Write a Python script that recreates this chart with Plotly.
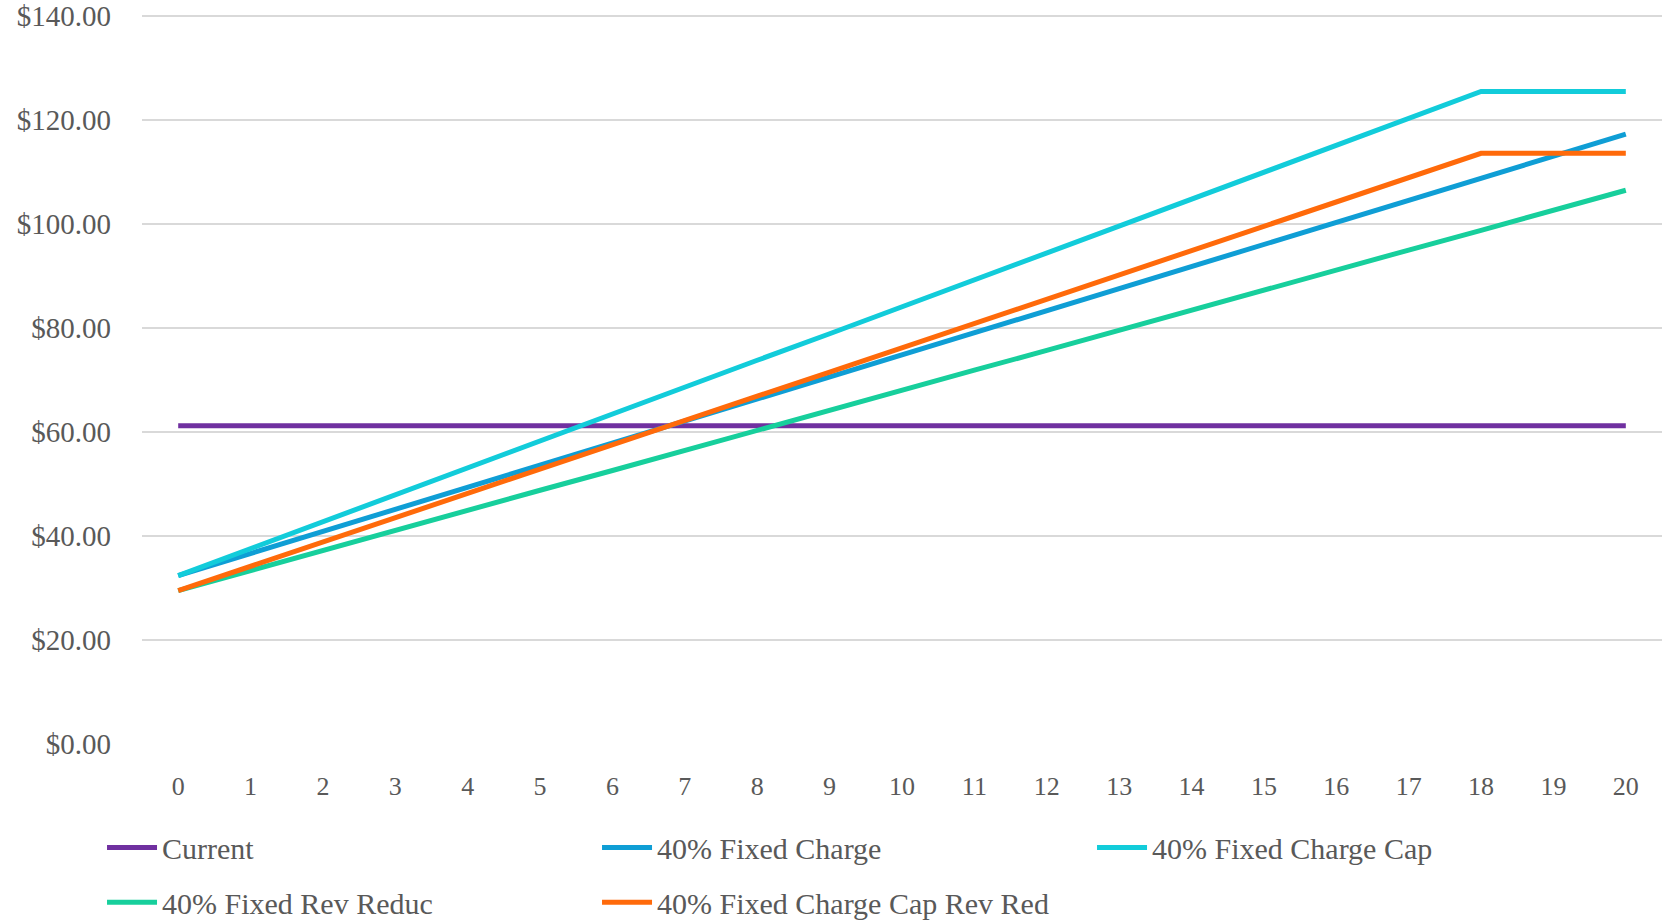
import plotly.graph_objects as go

x_labels = [str(i) for i in range(21)]

current = [61.2] * 21
fixed_charge = [32.4, 36.65, 40.9, 45.1, 49.4, 53.6, 57.9, 62.1, 66.4, 70.6, 74.9,
                79.1, 83.3, 87.6, 91.8, 96.1, 100.3, 104.6, 108.8, 113.1, 117.3]
fixed_charge_cap = [32.4, 37.6, 42.7, 47.9, 53.1, 58.3, 63.4, 68.6, 73.8, 78.9, 84.1,
                    89.3, 94.4, 99.6, 104.8, 110.0, 115.1, 120.3, 125.5, 125.5, 125.5]
fixed_rev_reduc = [29.5, 33.4, 37.2, 41.1, 44.9, 48.8, 52.6, 56.5, 60.3, 64.2, 68.0,
                   71.9, 75.7, 79.6, 83.4, 87.3, 91.1, 95.0, 98.8, 102.7, 106.5]
fixed_cap_rev_red = [29.5, 34.2, 38.8, 43.5, 48.2, 52.9, 57.5, 62.2, 66.9, 71.5, 76.2,
                     80.9, 85.6, 90.2, 94.9, 99.6, 104.3, 108.9, 113.6, 113.6, 113.6]

y_ticks = [0, 20, 40, 60, 80, 100, 120, 140]
y_tick_labels = ["$0.00", "$20.00", "$40.00", "$60.00", "$80.00", "$100.00", "$120.00", "$140.00"]

series = [
    ("Current", current, "#7030A0", "legend"),
    ("40% Fixed Charge", fixed_charge, "#0F9ED5", "legend"),
    ("40% Fixed Charge Cap", fixed_charge_cap, "#12CCDA", "legend"),
    ("40% Fixed Rev Reduc", fixed_rev_reduc, "#17CF9C", "legend2"),
    ("40% Fixed Charge Cap Rev Red", fixed_cap_rev_red, "#FF6A0A", "legend2"),
]

FONT = "Liberation Serif"
GREY = "#595959"

fig = go.Figure()
for name, vals, color, lg in series:
    fig.add_trace(go.Scatter(
        x=x_labels, y=vals, name=name, mode="lines",
        line=dict(color=color, width=5),
        legend=lg,
    ))

legend_common = dict(
    orientation="h",
    xanchor="left", yanchor="top",
    font=dict(family=FONT, size=30, color=GREY),
    bgcolor="rgba(0,0,0,0)",
    entrywidth=430, entrywidthmode="pixels",
    itemwidth=50,
    traceorder="normal",
)

fig.update_layout(
    width=1665, height=921,
    margin=dict(l=142, r=3, t=14, b=177, autoexpand=False),
    paper_bgcolor="white", plot_bgcolor="white",
    font=dict(family=FONT, color=GREY),
    showlegend=True,
    legend=dict(x=-0.0263, y=-0.106, **legend_common),
    legend2=dict(x=-0.0263, y=-0.181, **legend_common),
    xaxis=dict(
        type="category",
        range=[-0.5, 20.5],
        showgrid=False, zeroline=False, showline=False,
        ticks="", ticklabelstandoff=24,
        tickfont=dict(family=FONT, size=26, color=GREY),
    ),
    yaxis=dict(
        range=[0, 140.4],
        tickvals=y_ticks, ticktext=y_tick_labels,
        showgrid=True, gridcolor="#D9D9D9", gridwidth=1.5,
        zeroline=False, showline=False,
        ticks="", ticklabelstandoff=30,
        ticklabeloverflow="allow",
        tickfont=dict(family=FONT, size=29, color=GREY),
    ),
)

fig.write_html(
    "out.html",
    config={"displayModeBar": False},
    post_script="document.body.style.margin='0';document.body.style.overflow='hidden';",
)
